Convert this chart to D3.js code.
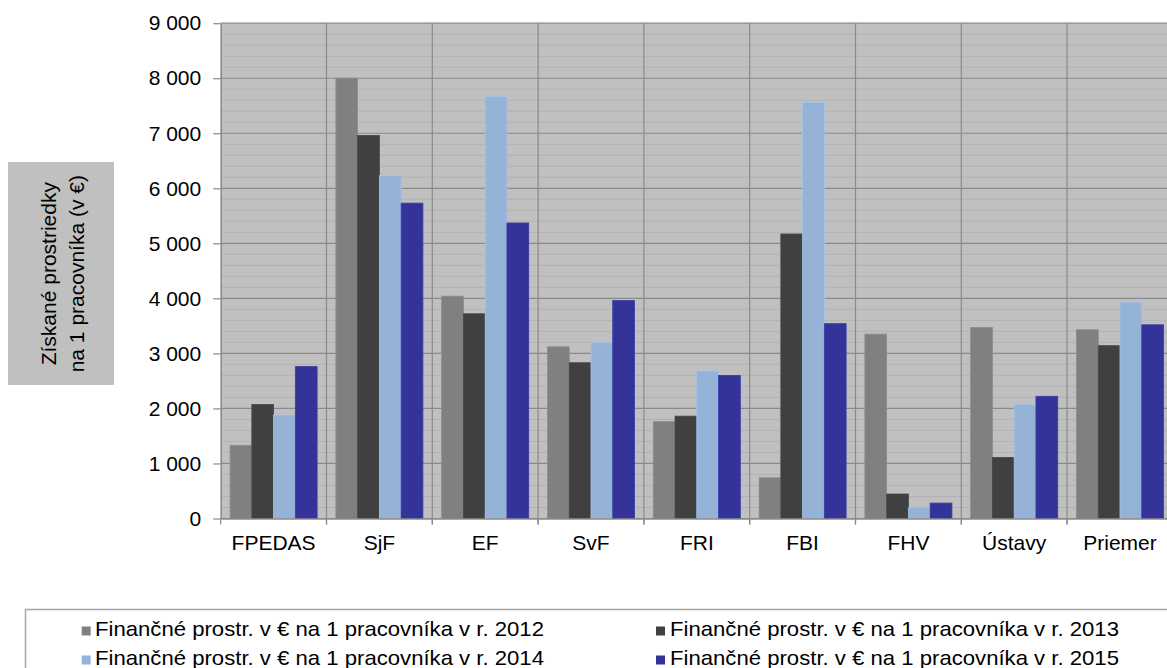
<!DOCTYPE html>
<html>
<head>
<meta charset="utf-8">
<script src="https://cdn.jsdelivr.net/npm/d3@7/dist/d3.min.js"></script>
<style>
  html, body { margin: 0; padding: 0; background: #ffffff; overflow: hidden; }
  svg { display: block; font-family: "Liberation Sans", Arial, sans-serif; }
</style>
</head>
<body>
<svg id="chart" width="1167" height="668"></svg>
<script>
// ---- data ----
const categories = ["FPEDAS", "SjF", "EF", "SvF", "FRI", "FBI", "FHV", "Ústavy", "Priemer"];
const years = ["2012", "2013", "2014", "2015"];
const values2012 = [1330, 8000, 4040, 3120, 1760, 740, 3350, 3470, 3430];
const values2013 = [2070, 6960, 3720, 2830, 1860, 5170, 445, 1110, 3140];
const values2014 = [1880, 6230, 7670, 3200, 2680, 7560, 195, 2070, 3930];
const values2015 = [2760, 5730, 5370, 3960, 2600, 3540, 280, 2220, 3520];
const yTicks = [0, 1000, 2000, 3000, 4000, 5000, 6000, 7000, 8000, 9000];
const legendLabels = [
  "Finančné prostr. v € na 1 pracovníka v r. 2012",
  "Finančné prostr. v € na 1 pracovníka v r. 2013",
  "Finančné prostr. v € na 1 pracovníka v r. 2014",
  "Finančné prostr. v € na 1 pracovníka v r. 2015"
];
const yTitleLines = ["Získané prostriedky", "na 1 pracovníka (v €)"];

// ---- styles ----
const colors = ["#808080", "#404040", "#95b3d7", "#333399"];
const series = [values2012, values2013, values2014, values2015];

const svg = d3.select("#chart");
const plot = { left: 220.7, right: 1172.9, top: 23.2, bottom: 518.5 };

const x0 = d3.scaleBand().domain(categories).range([plot.left, plot.right]).padding(0);
const bw = x0.bandwidth();
const x1 = d3.scaleBand().domain(years).range([9.4, bw - 9.4]).padding(0);
const y = d3.scaleLinear().domain([0, 9000]).range([plot.bottom, plot.top]);

const locale = d3.formatLocale({ decimal: ",", thousands: " ", grouping: [3], currency: ["", ""] });
const fmt = locale.format(",");

// plot background
svg.append("rect")
  .attr("x", plot.left).attr("y", plot.top)
  .attr("width", plot.right - plot.left).attr("height", plot.bottom - plot.top)
  .attr("fill", "#c0c0c0");

// minor gridlines
svg.append("g").selectAll("line")
  .data(d3.range(0, 9001, 200).filter(v => v % 1000 !== 0))
  .join("line")
  .attr("x1", plot.left).attr("x2", plot.right)
  .attr("y1", d => y(d)).attr("y2", d => y(d))
  .attr("stroke", "#b2b2b2").attr("stroke-width", 1);

// major gridlines
svg.append("g").selectAll("line")
  .data(yTicks)
  .join("line")
  .attr("x1", plot.left).attr("x2", plot.right)
  .attr("y1", d => y(d)).attr("y2", d => y(d))
  .attr("stroke", "#8a8a8a").attr("stroke-width", 1.2);

// vertical category gridlines
svg.append("g").selectAll("line")
  .data(categories.slice(1))
  .join("line")
  .attr("x1", d => x0(d)).attr("x2", d => x0(d))
  .attr("y1", plot.top).attr("y2", plot.bottom + 6)
  .attr("stroke", "#8a8a8a").attr("stroke-width", 1.2);

// bars
const groups = svg.append("g").selectAll("g")
  .data(categories)
  .join("g")
  .attr("transform", d => `translate(${x0(d)},0)`);

groups.selectAll("rect")
  .data((c, i) => years.map((yr, k) => ({ yr, k, v: series[k][i] })))
  .join("rect")
  .attr("x", d => x1(d.yr))
  .attr("width", x1.bandwidth())
  .attr("y", d => y(d.v))
  .attr("height", d => y(0) - y(d.v))
  .attr("fill", d => colors[d.k])
  .attr("stroke", d => d3.color(colors[d.k]).brighter(0.25))
  .attr("stroke-width", 0.8);

// y axis
const yAxis = svg.append("g")
  .attr("transform", `translate(${plot.left},0)`)
  .call(d3.axisLeft(y).tickValues(yTicks).tickFormat(fmt).tickSize(7.5).tickPadding(12).tickSizeOuter(0));
yAxis.select(".domain").attr("stroke", "#8a8a8a").attr("stroke-width", 1.5);
yAxis.selectAll(".tick line").attr("stroke", "#8a8a8a").attr("stroke-width", 1.2);
yAxis.selectAll(".tick text").attr("font-size", 21).attr("fill", "#000")
  .attr("font-family", "'Liberation Sans', Arial, sans-serif");

// x axis
const xAxis = svg.append("g")
  .attr("transform", `translate(0,${plot.bottom})`)
  .call(d3.axisBottom(x0).tickSize(0).tickPadding(16.5).tickSizeOuter(0));
xAxis.select(".domain").attr("stroke", "#8a8a8a").attr("stroke-width", 1.5);
xAxis.selectAll(".tick text").attr("font-size", 21).attr("fill", "#000")
  .attr("font-family", "'Liberation Sans', Arial, sans-serif");
// boundary ticks
xAxis.append("g").selectAll("line")
  .data(categories)
  .join("line")
  .attr("x1", d => x0(d)).attr("x2", d => x0(d))
  .attr("y1", 0).attr("y2", 6)
  .attr("stroke", "#8a8a8a").attr("stroke-width", 1.2);

// y title box
svg.append("rect")
  .attr("x", 8).attr("y", 162).attr("width", 106).attr("height", 223)
  .attr("fill", "#c0c0c0");
const yt = svg.append("text")
  .attr("transform", "translate(0,273.7) rotate(-90)")
  .attr("text-anchor", "middle")
  .attr("font-size", 21)
  .attr("fill", "#000");
yt.selectAll("tspan")
  .data(yTitleLines)
  .join("tspan")
  .attr("x", 0)
  .attr("y", (d, i) => 55.5 + i * 28)
  .text(d => d);

// legend
svg.append("rect")
  .attr("x", 25.5).attr("y", 609.5).attr("width", 1200).attr("height", 100)
  .attr("fill", "#fff").attr("stroke", "#a6a6a6").attr("stroke-width", 1.5);

const legendPos = [
  { mx: 81.7, tx: 95, ty: 636 },
  { mx: 656, tx: 670, ty: 636 },
  { mx: 81.7, tx: 95, ty: 665 },
  { mx: 656, tx: 670, ty: 665 }
];
const lg = svg.append("g").selectAll("g")
  .data(legendLabels)
  .join("g");
lg.append("rect")
  .attr("x", (d, i) => legendPos[i].mx)
  .attr("y", (d, i) => legendPos[i].ty - 9.5)
  .attr("width", 9).attr("height", 9)
  .attr("fill", (d, i) => colors[i]);
lg.append("text")
  .attr("x", (d, i) => legendPos[i].tx)
  .attr("y", (d, i) => legendPos[i].ty)
  .attr("font-size", 21)
  .attr("fill", "#000")
  .attr("textLength", 449)
  .attr("lengthAdjust", "spacingAndGlyphs")
  .text(d => d);
</script>
</body>
</html>
